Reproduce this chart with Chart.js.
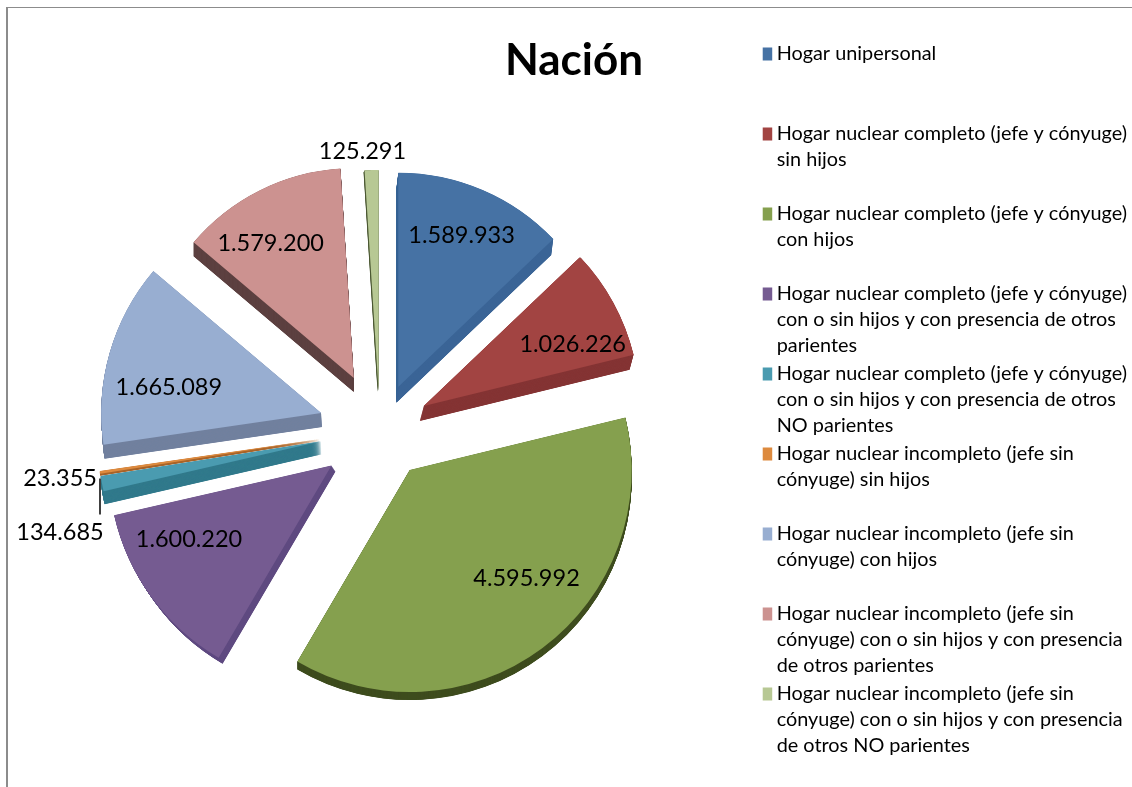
<!DOCTYPE html>
<html lang="es">
<head>
<meta charset="utf-8">
<title>Nación</title>
<script src="https://cdn.jsdelivr.net/npm/chart.js@4"></script>
<style>
    html, body { margin: 0; padding: 0; background: #fff; overflow: hidden; }
    #frame { position: absolute; left: 6px; top: 7px; width: 1126px; height: 780px; border-left: 2px solid #8c8c8c; border-top: 1px solid #8c8c8c; box-sizing: border-box; }
    #nacion { position: absolute; left: 0; top: 0; }
</style>
</head>
<body>
<div id="frame"></div>
<canvas id="nacion" width="1132" height="787"></canvas>
<script>
// data
const chartTitle = 'Nación';
const categories = [
    ['Hogar unipersonal'],
    ['Hogar nuclear completo (jefe y cónyuge)', 'sin hijos'],
    ['Hogar nuclear completo (jefe y cónyuge)', 'con hijos'],
    ['Hogar nuclear completo (jefe y cónyuge)', 'con o sin hijos y con presencia de otros', 'parientes'],
    ['Hogar nuclear completo (jefe y cónyuge)', 'con o sin hijos y con presencia de otros', 'NO parientes'],
    ['Hogar nuclear incompleto (jefe sin', 'cónyuge) sin hijos'],
    ['Hogar nuclear incompleto (jefe sin', 'cónyuge) con hijos'],
    ['Hogar nuclear incompleto (jefe sin', 'cónyuge) con o sin hijos y con presencia', 'de otros parientes'],
    ['Hogar nuclear incompleto (jefe sin', 'cónyuge) con o sin hijos y con presencia', 'de otros NO parientes']
];
const hogares = [1589933, 1026226, 4595992, 1600220, 134685, 23355, 1665089, 1579200, 125291];

// look of the slices
const topColors = ['#4672a4', '#a24442', '#85a04e', '#755b91', '#4a9bb0', '#dd8a3e', '#98aed1', '#cc9290', '#b7c894'];
const rimColors = ['#3a6496', '#853535', '#3f4d1f', '#5f4a80', '#327a8c', '#a8642a', '#72809f', '#5c4040', '#4d5a35'];
const explode = [47, 50, 50, 60, 60, 60, 61, 58, 40];
const sliceRadius = [214, 216, 222, 223, 223, 223, 220, 210, 220];
const rimX = [-2, -4, 0, 4, 1, 0, 1, 0, -1];
const rimY = [16, 15, 8, 6, 13, 2, 14, 14, 2];

// label placement, relative to the spot the slice gives
const labelNudge = [[0, -4], [8, 15], [21, -20], [-13, -21], [-42, 49], [-40, 6], [2, 19], [-11, 9], [-9, -16]];
const outsideLabels = [4, 5, 8];

const radius = 223;

function formatValue(v) {
    return String(v).replace(/\B(?=(\d{3})+$)/g, '.');
}

function arcPoint(arc, i, r) {
    const mid = (arc.startAngle + arc.endAngle) / 2;
    return {
        x: arc.x + Math.cos(mid) * (explode[i] + r),
        y: arc.y + Math.sin(mid) * (explode[i] + r)
    };
}

// an arc with a quarter turn circumference keeps its radius and full angle when offset
const keepShapePlugin = {
    id: 'keepShape',
    afterDatasetsUpdate(chart) {
        chart.getDatasetMeta(0).data.forEach((arc, i) => {
            arc.circumference = Math.PI / 2;
            arc.outerRadius = sliceRadius[i];
        });
    }
};

// thickness of the 3D pie: every slice is stamped again below itself
const rimPlugin = {
    id: 'rim',
    beforeDatasetsDraw(chart) {
        const ctx = chart.ctx;
        chart.getDatasetMeta(0).data.forEach((arc, i) => {
            const saved = arc.options;
            arc.options = Object.create(saved, { backgroundColor: { value: rimColors[i] } });
            const steps = Math.max(Math.abs(rimX[i]), Math.abs(rimY[i])) * 4;
            for (let s = steps; s > 0; s--) {
                ctx.save();
                ctx.translate(rimX[i] * s / steps, rimY[i] * s / steps);
                arc.draw(ctx);
                ctx.restore();
            }
            arc.options = saved;
        });
    }
};

const valueLabelPlugin = {
    id: 'valueLabels',
    afterDatasetsDraw(chart) {
        const ctx = chart.ctx;
        const arcs = chart.getDatasetMeta(0).data;
        ctx.save();
        ctx.font = '23.5px Lato';
        ctx.fillStyle = '#000';
        ctx.textAlign = 'center';
        ctx.textBaseline = 'middle';
        arcs.forEach((arc, i) => {
            const r = outsideLabels.includes(i) ? radius : radius * 0.72;
            const p = arcPoint(arc, i, r);
            ctx.fillText(formatValue(hogares[i]), p.x + labelNudge[i][0], p.y + labelNudge[i][1]);
        });
        // leader line of the two small slices
        const a = arcPoint(arcs[5], 5, radius);
        ctx.strokeStyle = '#000';
        ctx.lineWidth = 1.5;
        ctx.beginPath();
        ctx.moveTo(100, a.y + 6);
        ctx.lineTo(100, a.y + 42);
        ctx.stroke();
        ctx.restore();
    }
};

// title and legend sit apart from what the layout gives them
const placePlugin = {
    id: 'place',
    afterLayout(chart) {
        chart.titleBlock.left += 7;
        chart.titleBlock.right += 7;
        chart.titleBlock.top -= 8;
        chart.titleBlock.bottom -= 8;
        chart.legend.left += 7;
        chart.legend.right += 7;
    }
};

new Chart(document.getElementById('nacion'), {
    type: 'pie',
    data: {
        labels: categories,
        datasets: [{
            data: hogares,
            backgroundColor: topColors,
            borderWidth: 0,
            offset: explode.map(d => d * 4),
            clip: false
        }]
    },
    plugins: [keepShapePlugin, rimPlugin, valueLabelPlugin, placePlugin],
    options: {
        responsive: false,
        animation: false,
        radius: radius,
        layout: { padding: { left: 4, right: 2, top: 42, bottom: 22 } },
        plugins: {
            tooltip: { enabled: false },
            title: {
                display: true,
                text: chartTitle,
                color: '#000',
                padding: 0,
                font: { family: 'Lato', size: 44, weight: 'bold', lineHeight: 1.2 }
            },
            legend: {
                position: 'right',
                align: 'start',
                onClick: null,
                labels: {
                    color: '#000',
                    padding: 2,
                    boxWidth: 2,
                    boxHeight: 13,
                    usePointStyle: true,
                    font: { family: 'Lato', size: 19.85, lineHeight: '26px' },
                    generateLabels() {
                        return categories.map((lines, i) => ({
                            text: [lines[0], lines[1] || '', lines[2] || ''],
                            fillStyle: topColors[i],
                            strokeStyle: topColors[i],
                            lineWidth: 0,
                            pointStyle: 'rect',
                            index: i
                        }));
                    }
                }
            }
        }
    }
});
</script>
</body>
</html>
